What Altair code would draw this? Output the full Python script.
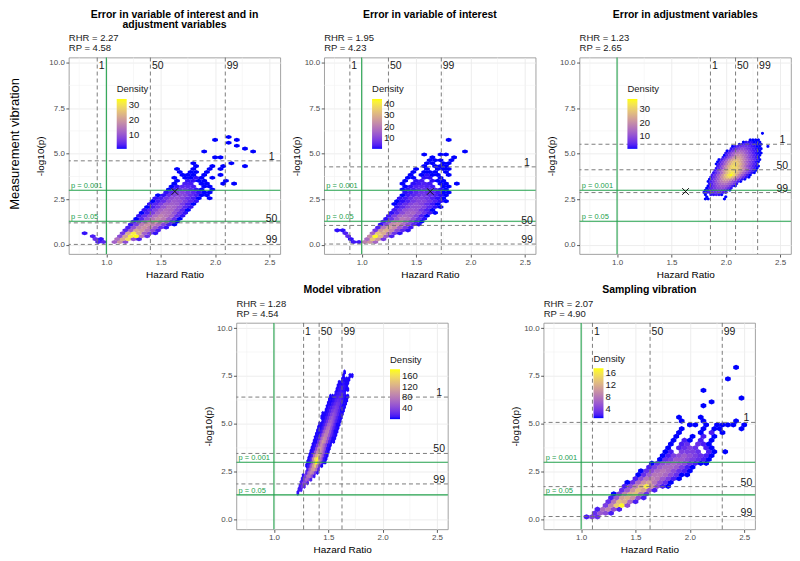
import altair as alt
import pandas as pd

FONT = "Liberation Sans"
CHARS = "123456789abcdefghijklmnopqrstuvwxyzABCDEFGHIJKLMNOPQRSTUVWXYZ"
GREEN = "#22A04B"
DASH = "#6e6e6e"

X_DOMAIN = [0.655, 2.6]
Y_DOMAIN = [-0.5, 10.27]
X_TICKS = [1.0, 1.5, 2.0, 2.5]
Y_TICKS = [0.0, 2.5, 5.0, 7.5, 10.0]
X_MINOR = [0.75, 1.25, 1.75, 2.25]
Y_MINOR = [1.25, 3.75, 6.25, 8.75]
P_LINES = [3.0, 1.30103]
P_LABELS = ["p = 0.001", "p = 0.05"]
PCT_LABELS = ["1", "50", "99"]
NULL_HR = [1.0]

TITLES = [["Error in variable of interest and in", "adjustment variables"],
          ["Error in variable of interest"],
          ["Error in adjustment variables"],
          ["Model vibration"],
          ["Sampling vibration"]]
RHR = ["2.27", "1.95", "1.23", "1.28", "2.07"]
RP = ["4.58", "4.23", "2.65", "4.54", "4.90"]
HR_PCT = [[0.916, 1.405, 2.094], [0.891, 1.246, 1.732], [1.859, 2.09, 2.293],
          [1.273, 1.416, 1.626], [1.104, 1.634, 2.298]]
P_PCT = [[4.61, 1.21, 0.03], [4.28, 1.07, 0.05], [5.52, 4.12, 2.87],
         [6.40, 3.46, 1.87], [5.08, 1.73, 0.17]]
REF_HR = [1.63]
REF_P = [2.93]
DENS_MAX = [34.3, 44, 37.3, 183, 17.5]
LEGEND_VALUES = [[10, 20, 30], [10, 20, 30, 40], [10, 20, 30], [40, 80, 120, 160], [4, 8, 12, 16]]

# hex grid per panel: x0, dx, y0, row spacing, density unit, hex scale
GRIDS = [(0.70, 0.05, 0.0, 0.16, 1, 1.05),
         (0.70, 0.05, 0.0, 0.16, 1, 1.05),
         (1.70, 0.025, 2.40, 0.12, 1, 1.1),
         (1.10, 0.02, 1.40, 0.18, 3, 1.25),
         (1.00, 0.05, 0.15, 0.20, 1, 1.05)]

# (row, first column, density codes per hexagon; '.' = empty)
HEX1 = [(1, 4, "34.ck9"), (2, 4, "52..enua3"), (3, 3, "3....9mwyg5"), (4, 2, "2......6nwmc72"),
        (5, 9, "4cmkf93"), (6, 10, "3ahjgb52"), (7, 10, "27gjhe831"), (8, 11, "36chjfc41"),
        (9, 11, "14afigb51"), (10, 12, "259ehfc52"), (11, 12, "137cfea52"), (12, 13, "248ced941"),
        (13, 13, "136adc942"), (14, 14, "247bcb731"), (15, 14, "1359ba742"), (16, 15, "2369a8531.1"),
        (17, 15, "1258985311"), (18, 17, "247864211"), (19, 17, "1356421.1"), (20, 18, "12443.11"),
        (21, 18, "1.33.11..1.1"), (22, 19, "1.2211...1"), (23, 18, "1.1121.1"), (24, 20, "111.1..1"),
        (25, 19, "1.11.1"), (26, 19, "1..1..1.1"), (27, 22, "1..1.1...1"), (28, 22, "1......1"),
        (30, 26, "11"), (32, 24, "1........1"), (33, 31, "1"), (34, 30, "1"), (35, 28, "1"),
        (36, 26, "1...1"), (37, 28, "1")]
HEX2 = [(1, 4, "33lpg"), (2, 4, "2..hxp8"), (3, 3, "5...nHve4"), (4, 3, "4....fyti72"),
        (5, 1, "22.....8qumb52"), (6, 9, "4krnf83"), (7, 9, "2anpib52"), (8, 10, "4bkmga41"),
        (9, 10, "27ekic62"), (10, 11, "39fhfa41"), (11, 11, "25bfgc731"), (12, 12, "37ced841"),
        (13, 12, "259cc9521"), (14, 12, "136aca631"), (15, 12, "1248aa7421"), (16, 13, "236997421"),
        (17, 13, "135786421"), (18, 14, "235765311"), (19, 13, "123565421"), (20, 14, "124543.11"),
        (21, 13, "1.2343.11.1"), (22, 14, "1.23.211"), (23, 14, "11.22.1"), (24, 15, "1.1211.1"),
        (25, 15, "1.111.1"), (26, 16, "1.1.111"), (27, 17, "1.111"), (28, 18, "11.11"),
        (29, 18, "111.1"), (30, 19, "1...1"), (31, 17, "1..11"), (32, 25, "1"), (36, 22, "1")]
HEX3 = [(1, 4, "11.....1"), (2, 5, "1......1"), (3, 4, "1.22321"), (4, 4, "123455432"),
        (5, 4, "1246787531"), (6, 5, "13579aa852"), (7, 5, "1369bcca731"), (8, 6, "248beffda62"),
        (9, 5, "136aehjifb731"), (10, 6, "148chlnnkgb621"), (11, 6, "259ekptvqlga521"),
        (12, 7, "36bgmsxBwoic731"), (13, 7, "259flrwyupje9521"), (14, 8, "37ciotwvsoje9521"),
        (15, 8, "25agmsvvtpkfa631"), (16, 9, "37djpuwuqlgb7421"), (17, 8, "137ciotvtpkfb742"),
        (18, 9, "148djpttqlgc8521"), (19, 9, "137cinqqnjfb8521"), (20, 11, "25afknnkgc8531"),
        (21, 11, "148chkkhea7421"), (22, 12, "259dghgda74211"), (23, 12, "136adedb85321"),
        (24, 14, "2479a9753211"), (25, 14, "12467653211..1"), (26, 17, "134432211"),
        (27, 18, "1222111"), (28, 21, "1111"), (31, 25, "1")]
HEX4 = [(0, 6, "2"), (1, 6, "34"), (2, 7, "396"), (3, 7, "4df5"), (4, 8, "3clh4"),
        (5, 8, "2boqg3"), (6, 10, "6mvrb2"), (7, 10, "4kxAq6"), (8, 10, "13hzLs71"),
        (9, 10, "12gDYEl31"), (10, 11, "14tOWyj31"), (11, 11, "13oCIwi31"), (12, 12, "12ivBth31"),
        (13, 12, "12etzqf21"), (14, 13, "12bpwod21"), (15, 13, "118ozuh511"), (16, 14, "127mwtg611"),
        (17, 14, "115jtsh721"), (18, 15, "114gqrg611"), (19, 15, "113dnpf621"), (20, 16, "113akmf611"),
        (21, 17, "138hke621"), (22, 17, "1137fid621"), (23, 17, "1126cgc621"), (24, 19, "125ada511"),
        (25, 19, "1248b9411"), (26, 20, "113698411"), (27, 20, "112576311"), (28, 21, "112454211"),
        (29, 23, "23432"), (30, 24, "123211"), (31, 24, "12221"), (32, 25, "11211"),
        (33, 26, "1111"), (34, 27, "1..11"), (35, 27, "1")]
HEX5 = [(0, 1, "243"), (1, 2, "3652"), (2, 3, "27952"), (3, 4, "49eh5"), (4, 5, "38dc72"),
        (5, 5, "26bca52"), (6, 6, "149cd83"), (7, 7, "36adb62"), (8, 8, "259cga521"),
        (9, 8, "137ab8531"), (10, 10, "258986421"), (11, 10, "1368875311"), (12, 11, "1357875321"),
        (13, 12, "246776421"), (14, 13, "13567653211"), (15, 14, "1346654321"),
        (16, 15, "1245654321"), (17, 15, "12.4443.21.1"), (18, 16, "1.2343.21"),
        (19, 16, "1.23.321"), (20, 17, "1.21.2.1"), (21, 17, "1..1.2.1"), (22, 18, "1...1.2.1"),
        (23, 18, "1...1.11...1"), (24, 20, "11.1.1111.1"), (25, 18, "1...1.....1"),
        (26, 18, "1...1"), (29, 22, "1"), (30, 24, "1"), (31, 29, "1"), (33, 22, "1"),
        (36, 27, "1"), (39, 28, "1")]
HEX_ROWS = [HEX1, HEX2, HEX3, HEX4, HEX5]


def hex_frame(rows, x0, dx, y0, ry, unit):
    recs = []
    for r, c0, s in rows:
        for k, ch in enumerate(s):
            if ch == ".":
                continue
            c = c0 + k
            recs.append({"x": x0 + c * dx + (r % 2) * dx / 2, "y": y0 + r * ry,
                         "d": (CHARS.index(ch) + 1) * unit})
    return pd.DataFrame(recs)


def make_panel(i, w, h, lx, ly, title_ys, rhr_y, rp_y, show_ref, row_label):
    x0, dx, y0, ry, unit, grow = GRIDS[i]
    hexdf = hex_frame(HEX_ROWS[i], x0, dx, y0, ry, unit)
    pxx = w / (X_DOMAIN[1] - X_DOMAIN[0])
    pxy = h / (Y_DOMAIN[1] - Y_DOMAIN[0])
    wpx = dx * pxx
    tip = (2.0 / 3.0) * ry * pxy
    t = tip / (wpx / 2)
    path = "M0,{a:.3f}L1,{b:.3f}L1,{c:.3f}L0,{d:.3f}L-1,{c:.3f}L-1,{b:.3f}Z".format(
        a=-t, b=-t / 2, c=t / 2, d=t)
    size = (wpx * grow) ** 2

    xs = alt.Scale(domain=X_DOMAIN, nice=False, zero=False)
    ys = alt.Scale(domain=Y_DOMAIN, nice=False, zero=False)
    X = alt.X("x:Q", scale=xs, axis=alt.Axis(values=X_TICKS, format=".1f", title="Hazard Ratio"))
    Y = alt.Y("y:Q", scale=ys, axis=alt.Axis(values=Y_TICKS, format=".1f", title="-log10(p)"))

    layers = []
    layers.append(alt.Chart(pd.DataFrame({"x": X_MINOR})).mark_rule(
        color="#f2f2f2", strokeWidth=0.6).encode(x=X))
    layers.append(alt.Chart(pd.DataFrame({"y": Y_MINOR})).mark_rule(
        color="#f2f2f2", strokeWidth=0.6).encode(y=Y))
    layers.append(alt.Chart(hexdf).mark_point(
        shape=path, size=size, filled=True, opacity=1, strokeWidth=0).encode(
        x=X, y=Y,
        color=alt.Color("d:Q",
                        scale=alt.Scale(domain=[1, DENS_MAX[i]], range=["#0000ff", "#ffff00"],
                                        interpolate="lab", clamp=True),
                        legend=alt.Legend(title="Density", orient="none", legendX=lx, legendY=ly,
                                          direction="vertical", gradientLength=50,
                                          gradientThickness=10, values=LEGEND_VALUES[i],
                                          titleFontSize=9.5, titleFontWeight="normal",
                                          titleFont=FONT, labelFont=FONT, labelFontSize=9.5,
                                          labelColor="#1a1a1a", titleColor="#1a1a1a",
                                          titlePadding=5, labelOverlap=False, padding=0,
                                          gradientStrokeWidth=0))))
    layers.append(alt.Chart(pd.DataFrame({"x": NULL_HR})).mark_rule(
        color=GREEN, strokeWidth=1.1).encode(x=X))
    layers.append(alt.Chart(pd.DataFrame({"y": P_LINES})).mark_rule(
        color=GREEN, strokeWidth=1.1).encode(y=Y))
    layers.append(alt.Chart(pd.DataFrame({"x": HR_PCT[i]})).mark_rule(
        color=DASH, strokeWidth=0.9, strokeDash=[4, 3]).encode(x=X))
    layers.append(alt.Chart(pd.DataFrame({"y": P_PCT[i]})).mark_rule(
        color=DASH, strokeWidth=0.9, strokeDash=[4, 3]).encode(y=Y))
    layers.append(alt.Chart(pd.DataFrame({"x": HR_PCT[i], "y": [9.8] * 3, "t": PCT_LABELS})).mark_text(
        align="left", baseline="middle", dx=1.5, fontSize=10.5, font=FONT, color="#1a1a1a").encode(
        x=X, y=Y, text="t:N"))
    layers.append(alt.Chart(pd.DataFrame({"x": [2.52] * 3, "y": P_PCT[i], "t": PCT_LABELS})).mark_text(
        align="center", baseline="alphabetic", dy=-1, fontSize=10.5, font=FONT, color="#1a1a1a").encode(
        x=X, y=Y, text="t:N"))
    layers.append(alt.Chart(pd.DataFrame({"x": [0.675] * 2, "y": P_LINES, "t": P_LABELS})).mark_text(
        align="left", baseline="alphabetic", dy=-2, fontSize=7.5, font=FONT, color=GREEN).encode(
        x=X, y=Y, text="t:N"))
    if show_ref:
        layers.append(alt.Chart(pd.DataFrame({"x": REF_HR, "y": REF_P})).mark_point(
            shape="M-1,-1L1,1M-1,1L1,-1", size=45, filled=False, color="#111111",
            strokeWidth=1, opacity=1).encode(x=X, y=Y))
    for k, line in enumerate(TITLES[i]):
        layers.append(alt.Chart(pd.DataFrame({"t": [line]})).mark_text(
            align="center", baseline="middle", fontSize=10.5, fontWeight="bold", font=FONT,
            color="#000000").encode(x=alt.value(w / 2), y=alt.value(title_ys[k]), text="t:N"))
    layers.append(alt.Chart(pd.DataFrame({"t": ["RHR = " + RHR[i]]})).mark_text(
        align="left", baseline="middle", fontSize=9.5, font=FONT, color="#1a1a1a").encode(
        x=alt.value(0), y=alt.value(rhr_y), text="t:N"))
    layers.append(alt.Chart(pd.DataFrame({"t": ["RP = " + RP[i]]})).mark_text(
        align="left", baseline="middle", fontSize=9.5, font=FONT, color="#1a1a1a").encode(
        x=alt.value(0), y=alt.value(rp_y), text="t:N"))
    if row_label:
        layers.append(alt.Chart(pd.DataFrame({"t": [row_label]})).mark_text(
            align="center", baseline="middle", fontSize=13, font=FONT, angle=270,
            color="#000000").encode(x=alt.value(-54), y=alt.value(h / 2 - 12), text="t:N"))
    return alt.layer(*layers).properties(width=w, height=h)


W = 212
H_TOP = 197
H_BOT = 207

p1 = make_panel(0, W, H_TOP, 48, 27, [-43, -32.5], -20, -9.5, True, "Measurement vibration")
p2 = make_panel(1, W, H_TOP, 48, 27, [-43], -20, -9.5, True, None)
p3 = make_panel(2, W, H_TOP, 48, 27, [-43], -20, -9.5, True, None)
p4 = make_panel(3, W, H_BOT, 154, 32, [-33], -19, -8.5, False, None)
p5 = make_panel(4, W, H_BOT, 50, 31, [-33], -19, -8.5, False, None)

spacer = alt.Chart(pd.DataFrame({"x": [0.0]})).mark_point(opacity=0).encode(
    x=alt.X("x:Q", axis=None), y=alt.Y("x:Q", axis=None)).properties(
    width=72, height=10, view=alt.ViewBackground(stroke="transparent"))

top = alt.hconcat(p1, p2, p3, spacing=9).resolve_scale(color="independent")
bottom = alt.hconcat(spacer, p4, p5, spacing=61).resolve_scale(color="independent")

chart = alt.vconcat(top, bottom, spacing=4).resolve_scale(color="independent").properties(
    padding=0
).configure(font=FONT).configure_view(
    stroke="#8c8c8c", strokeWidth=0.8
).configure_axis(
    labelFont=FONT, labelFontSize=8, labelColor="#4d4d4d", tickColor="#333333",
    tickSize=3, tickWidth=0.8, domain=False, gridColor="#ebebeb", gridWidth=0.9,
    titleFont=FONT, titleFontSize=10, titleFontWeight="normal", titleColor="#000000",
    labelPadding=1.5, titlePadding=3, labelFlush=False, labelOverlap=False
)

chart.save("out.html", embed_options={"renderer": "svg", "actions": False})
